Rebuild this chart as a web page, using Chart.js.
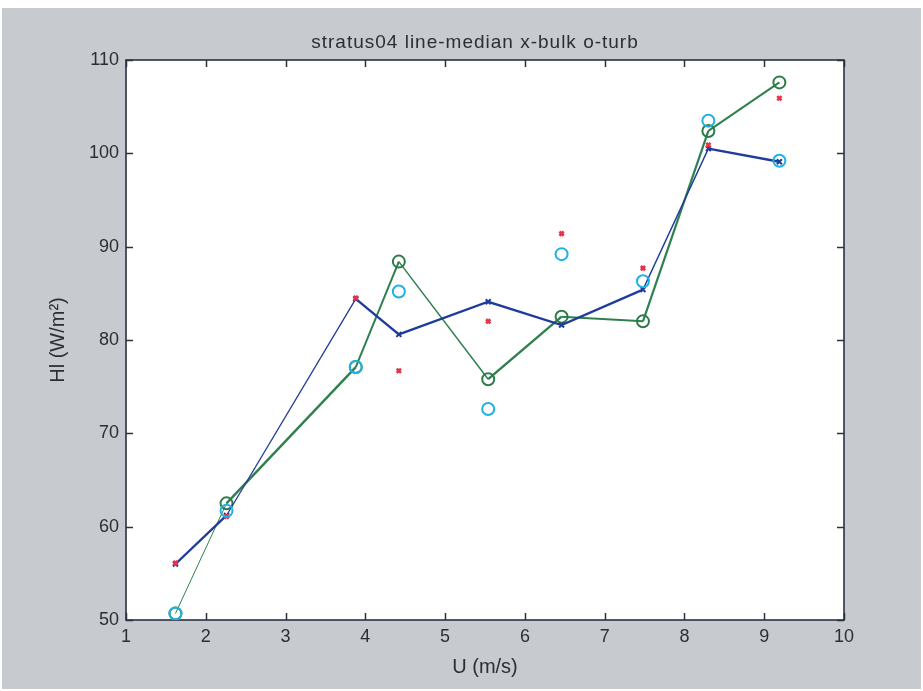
<!DOCTYPE html>
<html>
<head>
<meta charset="utf-8">
<script src="https://cdn.jsdelivr.net/npm/chart.js@4.4.1/dist/chart.umd.min.js"></script>
<style>
  html, body { margin: 0; padding: 0; background: #ffffff; }
  canvas { display: block; }
</style>
</head>
<body>
<canvas id="chart" width="923" height="691"></canvas>
<script>
// Wind-speed bins (m/s)
const windSpeed   = [1.62, 2.26, 3.88, 4.42, 5.54, 6.46, 7.48, 8.30, 9.19];
// Median of the bulk latent heat flux per bin (W/m^2)
const medianBulk  = [56.0, 61.2, 84.4, 80.6, 84.1, 81.6, 85.4, 100.5, 99.1];
// Median of the turbulent latent heat flux per bin (W/m^2)
const medianTurb  = [50.7, 62.5, 77.1, 88.4, 75.8, 82.5, 82.0, 102.4, 107.6];
// Bulk estimates (x markers)
const bulkFlux    = [56.1, 61.1, 84.5, 76.7, 82.0, 91.4, 87.7, 100.9, 105.9];
// Turbulent estimates (o markers)
const turbFlux    = [50.7, 61.7, 77.1, 85.2, 72.6, 89.2, 86.3, 103.5, 99.2];

const xTicks = [1, 2, 3, 4, 5, 6, 7, 8, 9, 10];
const yTicks = [50, 60, 70, 80, 90, 100, 110];

const titleText  = 'stratus04 line-median x-bulk o-turb';
const xTitleText = 'U (m/s)';
const yTitleText = 'Hl (W/m\u00B2)';

const pts = ys => windSpeed.map((x, i) => ({ x: x, y: ys[i] }));

const FONT = "'Liberation Sans', Arial, Helvetica, sans-serif";
const TEXT = '#2b2e35';
const AXIS = '#2c3142';

// per-segment stroke widths of the two median lines
const blueWidths  = [2.4, 1.3, 2.4, 2.4, 2.4, 2.4, 1.4, 2.4];
const greenWidths = [1.0, 2.4, 2.0, 1.5, 2.4, 2.0, 2.2, 2.0];

// Figure background, white axes, box, inward ticks on all sides and the title
const figureFrame = {
  id: 'figureFrame',
  beforeDraw(chart) {
    const { ctx, chartArea: a } = chart;
    ctx.save();
    ctx.fillStyle = '#ffffff';
    ctx.fillRect(0, 0, chart.width, chart.height);
    ctx.fillStyle = '#c7cbd0';
    ctx.fillRect(2, 8, chart.width - 4, chart.height - 10);
    ctx.fillStyle = '#ffffff';
    ctx.fillRect(a.left, a.top, a.right - a.left, a.bottom - a.top);
    ctx.restore();
  },
  beforeDatasetsDraw(chart) {
    const { ctx, chartArea: a, scales } = chart;
    const t = 7;
    ctx.save();
    ctx.strokeStyle = AXIS;
    ctx.lineWidth = 1.5;
    ctx.beginPath();
    xTicks.forEach(v => {
      const px = Math.round(scales.x.getPixelForValue(v)) + 0.5;
      ctx.moveTo(px, a.bottom); ctx.lineTo(px, a.bottom - t);
      ctx.moveTo(px, a.top);    ctx.lineTo(px, a.top + t);
    });
    yTicks.forEach(v => {
      const py = Math.round(scales.y.getPixelForValue(v)) + 0.5;
      ctx.moveTo(a.left, py);  ctx.lineTo(a.left + t, py);
      ctx.moveTo(a.right, py); ctx.lineTo(a.right - t, py);
    });
    ctx.stroke();
    ctx.lineWidth = 1.6;
    ctx.strokeRect(a.left, a.top, a.right - a.left, a.bottom - a.top);
    ctx.restore();
  },
  afterDraw(chart) {
    const { ctx } = chart;
    ctx.save();
    ctx.fillStyle = TEXT;
    ctx.font = '19px ' + FONT;
    if ('letterSpacing' in ctx) ctx.letterSpacing = '1px';
    ctx.textAlign = 'center';
    ctx.textBaseline = 'middle';
    ctx.fillText(titleText, 475, 43);
    ctx.restore();
  }
};

new Chart(document.getElementById('chart'), {
  type: 'scatter',
  data: {
    datasets: [
      {
        label: 'turb',
        data: pts(turbFlux),
        showLine: false,
        pointStyle: 'circle',
        pointRadius: 6,
        pointBorderWidth: 2,
        pointBorderColor: '#1fb0e6',
        pointBackgroundColor: 'rgba(0,0,0,0)'
      },
      {
        label: 'bulk',
        data: pts(bulkFlux),
        showLine: false,
        pointStyle: 'crossRot',
        pointRadius: 3,
        pointBorderWidth: 2.6,
        pointBorderColor: '#e8304a'
      },
      {
        label: 'median bulk',
        data: pts(medianBulk),
        showLine: true,
        borderColor: '#1f3c9a',
        borderWidth: 2.4,
        segment: { borderWidth: c => blueWidths[c.p0DataIndex] },
        pointStyle: 'crossRot',
        pointRadius: 3.5,
        pointBorderWidth: 2,
        pointBorderColor: '#1f3c9a'
      },
      {
        label: 'median turb',
        data: pts(medianTurb),
        showLine: true,
        borderColor: '#2f8050',
        borderWidth: 2,
        segment: { borderWidth: c => greenWidths[c.p0DataIndex] },
        pointStyle: 'circle',
        pointRadius: 6,
        pointBorderWidth: 2,
        pointBorderColor: '#2f7a4a',
        pointBackgroundColor: 'rgba(0,0,0,0)'
      }
    ]
  },
  options: {
    responsive: false,
    animation: false,
    devicePixelRatio: 1,
    layout: { padding: { left: 0, top: 60, right: 79, bottom: 0 } },
    plugins: {
      legend: { display: false },
      tooltip: { enabled: false },
      title: { display: false }
    },
    scales: {
      x: {
        type: 'linear',
        min: 1,
        max: 10,
        grid: { display: false, drawTicks: false },
        border: { display: false },
        afterBuildTicks: s => { s.ticks = xTicks.map(v => ({ value: v })); },
        afterFit: s => { s.height = 71; },
        ticks: {
          color: TEXT,
          padding: 6,
          maxRotation: 0,
          autoSkip: false,
          font: { family: FONT, size: 18 }
        },
        title: {
          display: true,
          text: xTitleText,
          color: TEXT,
          font: { family: FONT, size: 20 },
          padding: { top: 0, bottom: 12 }
        }
      },
      y: {
        type: 'linear',
        min: 50,
        max: 110,
        grid: { display: false, drawTicks: false },
        border: { display: false },
        afterBuildTicks: s => { s.ticks = yTicks.map(v => ({ value: v })); },
        afterFit: s => { s.width = 126; },
        ticks: {
          color: TEXT,
          padding: 7,
          autoSkip: false,
          font: { family: FONT, size: 18 }
        },
        title: {
          display: true,
          text: yTitleText,
          color: TEXT,
          font: { family: FONT, size: 20 },
          padding: { top: 46, bottom: 0 }
        }
      }
    }
  },
  plugins: [figureFrame]
});
</script>
</body>
</html>
